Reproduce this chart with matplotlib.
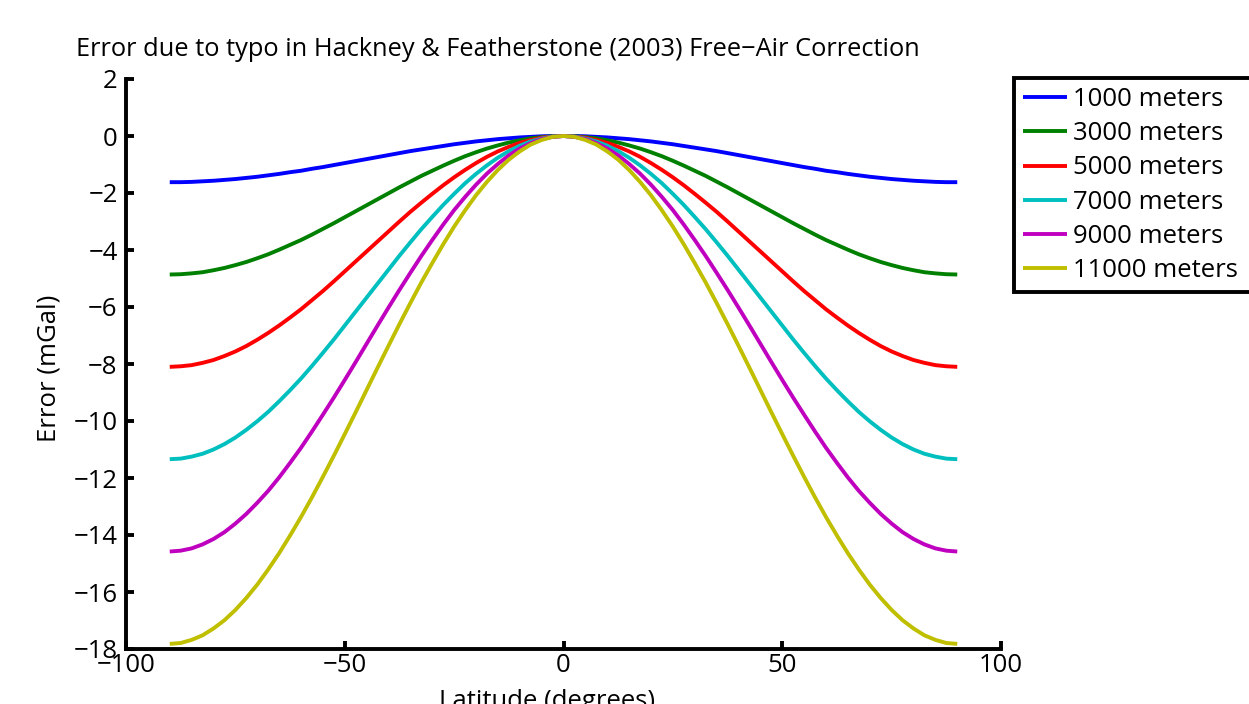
import matplotlib
matplotlib.use("Agg")
import matplotlib.pyplot as plt

# latitude in degrees, every 2.5 degrees from -90 to 90
latitude = [-90, -87.5, -85, -82.5, -80, -77.5, -75, -72.5, -70, -67.5, -65, -62.5, -60, -57.5, -55, -52.5,
            -50, -47.5, -45, -42.5, -40, -37.5, -35, -32.5, -30, -27.5, -25, -22.5, -20, -17.5, -15, -12.5,
            -10, -7.5, -5, -2.5, 0, 2.5, 5, 7.5, 10, 12.5, 15, 17.5, 20, 22.5, 25, 27.5, 30, 32.5, 35, 37.5,
            40, 42.5, 45, 47.5, 50, 52.5, 55, 57.5, 60, 62.5, 65, 67.5, 70, 72.5, 75, 77.5, 80, 82.5, 85, 87.5, 90]

# error in mGal
err_1000 = [-1.62, -1.62, -1.61, -1.59, -1.57, -1.54, -1.51, -1.47, -1.43, -1.38, -1.33, -1.27, -1.22, -1.15, -1.09, -1.02,
            -0.95, -0.88, -0.81, -0.74, -0.67, -0.60, -0.53, -0.47, -0.41, -0.35, -0.29, -0.24, -0.19, -0.15, -0.11, -0.08,
            -0.05, -0.03, -0.01, -0.00, 0.0, -0.00, -0.01, -0.03, -0.05, -0.08, -0.11, -0.15, -0.19, -0.24, -0.29, -0.35,
            -0.41, -0.47, -0.53, -0.60, -0.67, -0.74, -0.81, -0.88, -0.95, -1.02, -1.09, -1.15, -1.22, -1.27, -1.33, -1.38,
            -1.43, -1.47, -1.51, -1.54, -1.57, -1.59, -1.61, -1.62, -1.62]
err_3000 = [-4.86, -4.85, -4.82, -4.78, -4.71, -4.63, -4.53, -4.42, -4.29, -4.15, -3.99, -3.82, -3.65, -3.46, -3.26, -3.06,
            -2.85, -2.64, -2.43, -2.22, -2.01, -1.80, -1.60, -1.40, -1.22, -1.04, -0.87, -0.71, -0.57, -0.44, -0.33, -0.23,
            -0.15, -0.08, -0.04, -0.01, 0.0, -0.01, -0.04, -0.08, -0.15, -0.23, -0.33, -0.44, -0.57, -0.71, -0.87, -1.04,
            -1.22, -1.40, -1.60, -1.80, -2.01, -2.22, -2.43, -2.64, -2.85, -3.06, -3.26, -3.46, -3.65, -3.82, -3.99, -4.15,
            -4.29, -4.42, -4.53, -4.63, -4.71, -4.78, -4.82, -4.85, -4.86]
err_5000 = [-8.10, -8.08, -8.04, -7.96, -7.86, -7.72, -7.56, -7.37, -7.15, -6.91, -6.65, -6.37, -6.08, -5.76, -5.44, -5.10,
            -4.75, -4.40, -4.05, -3.70, -3.35, -3.00, -2.66, -2.34, -2.03, -1.73, -1.45, -1.19, -0.95, -0.73, -0.54, -0.38,
            -0.24, -0.14, -0.06, -0.02, 0.0, -0.02, -0.06, -0.14, -0.24, -0.38, -0.54, -0.73, -0.95, -1.19, -1.45, -1.73,
            -2.03, -2.34, -2.66, -3.00, -3.35, -3.70, -4.05, -4.40, -4.75, -5.10, -5.44, -5.76, -6.08, -6.37, -6.65, -6.91,
            -7.15, -7.37, -7.56, -7.72, -7.86, -7.96, -8.04, -8.08, -8.10]
err_7000 = [-11.34, -11.32, -11.25, -11.15, -11.00, -10.81, -10.58, -10.31, -10.01, -9.68, -9.31, -8.92, -8.51, -8.07, -7.61, -7.14,
            -6.65, -6.16, -5.67, -5.18, -4.69, -4.20, -3.73, -3.27, -2.84, -2.42, -2.03, -1.66, -1.33, -1.03, -0.76, -0.53,
            -0.34, -0.19, -0.09, -0.02, 0.0, -0.02, -0.09, -0.19, -0.34, -0.53, -0.76, -1.03, -1.33, -1.66, -2.03, -2.42,
            -2.84, -3.27, -3.73, -4.20, -4.69, -5.18, -5.67, -6.16, -6.65, -7.14, -7.61, -8.07, -8.51, -8.92, -9.31, -9.68,
            -10.01, -10.31, -10.58, -10.81, -11.00, -11.15, -11.25, -11.32, -11.34]
err_9000 = [-14.58, -14.55, -14.47, -14.33, -14.14, -13.90, -13.60, -13.26, -12.87, -12.45, -11.98, -11.47, -10.94, -10.37, -9.78, -9.18,
            -8.56, -7.93, -7.29, -6.65, -6.02, -5.40, -4.80, -4.21, -3.65, -3.11, -2.60, -2.14, -1.71, -1.32, -0.98, -0.68,
            -0.44, -0.25, -0.11, -0.03, 0.0, -0.03, -0.11, -0.25, -0.44, -0.68, -0.98, -1.32, -1.71, -2.14, -2.60, -3.11,
            -3.65, -4.21, -4.80, -5.40, -6.02, -6.65, -7.29, -7.93, -8.56, -9.18, -9.78, -10.37, -10.94, -11.47, -11.98, -12.45,
            -12.87, -13.26, -13.60, -13.90, -14.14, -14.33, -14.47, -14.55, -14.58]
err_11000 = [-17.82, -17.79, -17.68, -17.52, -17.28, -16.99, -16.63, -16.21, -15.74, -15.21, -14.64, -14.02, -13.37, -12.68, -11.96, -11.22,
             -10.46, -9.69, -8.91, -8.13, -7.36, -6.60, -5.86, -5.14, -4.46, -3.80, -3.18, -2.61, -2.08, -1.61, -1.19, -0.83,
             -0.54, -0.30, -0.14, -0.03, 0.0, -0.03, -0.14, -0.30, -0.54, -0.83, -1.19, -1.61, -2.08, -2.61, -3.18, -3.80,
             -4.46, -5.14, -5.86, -6.60, -7.36, -8.13, -8.91, -9.69, -10.46, -11.22, -11.96, -12.68, -13.37, -14.02, -14.64, -15.21,
             -15.74, -16.21, -16.63, -16.99, -17.28, -17.52, -17.68, -17.79, -17.82]

series = [err_1000, err_3000, err_5000, err_7000, err_9000, err_11000]
labels = ["1000 meters", "3000 meters", "5000 meters", "7000 meters", "9000 meters", "11000 meters"]
colors = [(0, 0, 1), (0, 0.5, 0), (1, 0, 0), (0, 0.75, 0.75), (0.75, 0, 0.75), (0.75, 0.75, 0)]

xticks = [-100, -50, 0, 50, 100]
yticks = [2, 0, -2, -4, -6, -8, -10, -12, -14, -16, -18]

plt.rcParams['font.family'] = ['Open Sans', 'DejaVu Sans']
plt.rcParams['axes.unicode_minus'] = True
fs = 18.5

fig = plt.figure(figsize=(12.49, 7.04), dpi=100)
ax = fig.add_axes([126 / 1249, 55 / 704, 875 / 1249, 570 / 704])

for vals, lab, col in zip(series, labels, colors):
    ax.plot(latitude, vals, color=col, lw=2.8, label=lab, solid_capstyle='butt')

ax.set_xlim(-100, 100)
ax.set_ylim(-18, 2)
ax.set_xticks(xticks)
ax.set_yticks(yticks)
ax.tick_params(direction='in', length=6, width=2.8, labelsize=fs)
ax.tick_params(axis='y', pad=6)
ax.tick_params(axis='x', pad=3)
for s in ['top', 'right']:
    ax.spines[s].set_visible(False)
for s in ['left', 'bottom']:
    ax.spines[s].set_linewidth(2.8)

ax.set_ylabel("Error (mGal)", fontsize=fs)
ax.yaxis.set_label_coords(-64 / 875, 1 - (368 - 79) / 570)
ax.set_xlabel("Latitude (degrees)", fontsize=fs)
ax.xaxis.set_label_coords((547 - 126) / 875, -40 / 570)
ax.xaxis.label.set_va('top')
fig.text(76 / 1249, 1 - 56 / 704, "Error due to typo in Hackney & Featherstone (2003) Free\u2212Air Correction",
         fontsize=18.3, ha='left', va='baseline')

leg = fig.legend(loc='upper left', bbox_to_anchor=(1014 / 1249, 1 - 78 / 704, 275 / 1249, 0), mode='expand',
                 fontsize=fs, frameon=True, fancybox=False, framealpha=1, handlelength=1.7, handletextpad=0.25,
                 labelspacing=0.36, borderpad=0.35, borderaxespad=0)
leg.get_frame().set_edgecolor('black')
leg.get_frame().set_linewidth(2.8)
for ln in leg.get_lines():
    ln.set_linewidth(2.8)

fig.savefig("out.png", dpi=100)
